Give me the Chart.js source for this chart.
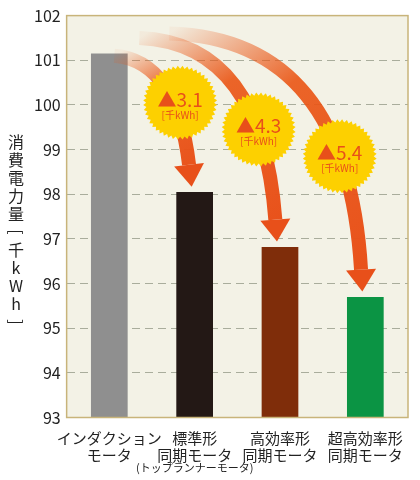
<!DOCTYPE html>
<html><head><meta charset="utf-8">
<script src="https://cdn.jsdelivr.net/npm/chart.js@4"></script>
<style>html,body{margin:0;background:#fff}#wrap{width:420px;height:480px}</style>
</head><body><div id="wrap"><canvas id="c"></canvas></div>
<script>
const categories = [['インダクション', 'モータ'], ['標準形', '同期モータ'], ['高効率形', '同期モータ'], ['超高効率形', '同期モータ']];
const subLabels = ['', '(トップランナーモータ)', '', ''];
const consumption = [101.15, 98.05, 96.82, 95.7];
const barColors = ['#8f8f8f', '#231815', '#7f2d0a', '#0b9444'];
const savings = ['▲3.1', '▲4.3', '▲5.4'];
const yTitle = '消費電力量[千kWh]';

const font = "'Noto Sans CJK JP', 'Noto Sans', sans-serif";

function burst(ctx, cx, cy, r) {
    ctx.beginPath();
    const n = 48;
    for (let i = 0; i <= n * 2; i++) {
        const a = i * Math.PI / n;
        const rr = i % 2 ? r : r - 3;
        ctx.lineTo(cx + rr * Math.cos(a), cy + rr * Math.sin(a));
    }
    ctx.fillStyle = '#fdd000';
    ctx.fill();
}

function arrow(ctx, x0, y0, cx, cy, x1, y1) {
    const g = ctx.createLinearGradient(x0, y0, x1, y1);
    g.addColorStop(0, 'rgba(234,85,20,0.05)');
    g.addColorStop(0.35, 'rgba(234,85,20,0.9)');
    g.addColorStop(1, '#e8501a');
    ctx.strokeStyle = g;
    ctx.lineWidth = 14;
    const ang = Math.atan2(y1 - cy, x1 - cx);
    const hx = x1 - 22 * Math.cos(ang), hy = y1 - 22 * Math.sin(ang);
    ctx.beginPath();
    ctx.moveTo(x0, y0);
    ctx.quadraticCurveTo(cx, cy, hx, hy);
    ctx.stroke();
    ctx.fillStyle = '#e8501a';
    ctx.beginPath();
    ctx.moveTo(x1, y1);
    ctx.lineTo(hx + 15 * Math.cos(ang + Math.PI / 2), hy + 15 * Math.sin(ang + Math.PI / 2));
    ctx.lineTo(hx - 15 * Math.cos(ang + Math.PI / 2), hy - 15 * Math.sin(ang + Math.PI / 2));
    ctx.closePath();
    ctx.fill();
}

const deco = {
    id: 'deco',
    beforeDraw(chart) {
        const {ctx, chartArea: a} = chart;
        ctx.save();
        ctx.fillStyle = '#f3f2e6';
        ctx.fillRect(a.left, a.top, a.right - a.left, a.bottom - a.top);
        ctx.restore();
    },
    afterDatasetsDraw(chart) {
        const {ctx, scales: {x, y}, chartArea: a} = chart;
        ctx.save();
        const x0 = x.getPixelForValue(0);
        const starts = [[x0 + 5, y.getPixelForValue(101.1)], [x0 + 30, y.getPixelForValue(101.5)], [x0 + 60, y.getPixelForValue(101.6)]];
        for (let i = 1; i < 4; i++) {
            const bx = x.getPixelForValue(i) - 3;
            const ty = y.getPixelForValue(consumption[i] + 0.12);
            const [sx, sy] = starts[i - 1];
            arrow(ctx, sx, sy, bx - 15, sy + 5, bx, ty);
        }
        const bursts = [[0.83, 100.05], [1.75, 99.45], [2.7, 98.85]];
        bursts.forEach((b, i) => {
            const cx = x.getPixelForValue(b[0]), cy = y.getPixelForValue(b[1]);
            burst(ctx, cx, cy, 37);
            ctx.fillStyle = '#e8501a';
            ctx.textAlign = 'center';
            ctx.textBaseline = 'alphabetic';
            ctx.font = '19px ' + font;
            ctx.fillText(savings[i], cx, cy + 4);
            ctx.font = '10px ' + font;
            ctx.fillText('[千kWh]', cx, cy + 16);
        });
        ctx.strokeStyle = '#c8b47a';
        ctx.lineWidth = 1.5;
        ctx.strokeRect(a.left, a.top, a.right - a.left, a.bottom - a.top);
        ctx.fillStyle = '#222';
        ctx.font = '11px ' + font;
        ctx.textAlign = 'center';
        subLabels.forEach((s, i) => { if (s) ctx.fillText(s, x.getPixelForValue(i), 472); });
        ctx.font = '16px ' + font;
        ctx.textBaseline = 'middle';
        [...yTitle].forEach((ch, i) => {
            if (ch === '[' || ch === ']') {
                ctx.save();
                ctx.translate(16, 142 + i * 18);
                ctx.rotate(Math.PI / 2);
                ctx.fillText(ch, 0, 0);
                ctx.restore();
            } else ctx.fillText(ch, 16, 142 + i * 18);
        });
        ctx.restore();
    }
};

new Chart(document.getElementById('c'), {
    type: 'bar',
    data: {
        labels: categories,
        datasets: [{ data: consumption, backgroundColor: barColors, barPercentage: 0.43, categoryPercentage: 1 }]
    },
    options: {
        responsive: true,
        maintainAspectRatio: false,
        animation: false,
        layout: { padding: { left: 28, right: 12, top: 6, bottom: 12 } },
        plugins: { legend: { display: false }, tooltip: { enabled: false } },
        scales: {
            x: {
                grid: { display: false },
                border: { display: false },
                ticks: { color: '#222', autoSkip: false, font: { family: font, size: 15, lineHeight: 1.15 }, maxRotation: 0, minRotation: 0, padding: 4 }
            },
            y: {
                min: 93, max: 102,
                ticks: { stepSize: 1, color: '#222', font: { family: font, size: 16 }, padding: 6 },
                grid: { color: '#a9ad9c', drawTicks: false, lineWidth: 1 },
                border: { display: false, dash: [8, 5] }
            }
        }
    },
    plugins: [deco]
});
</script></body></html>
